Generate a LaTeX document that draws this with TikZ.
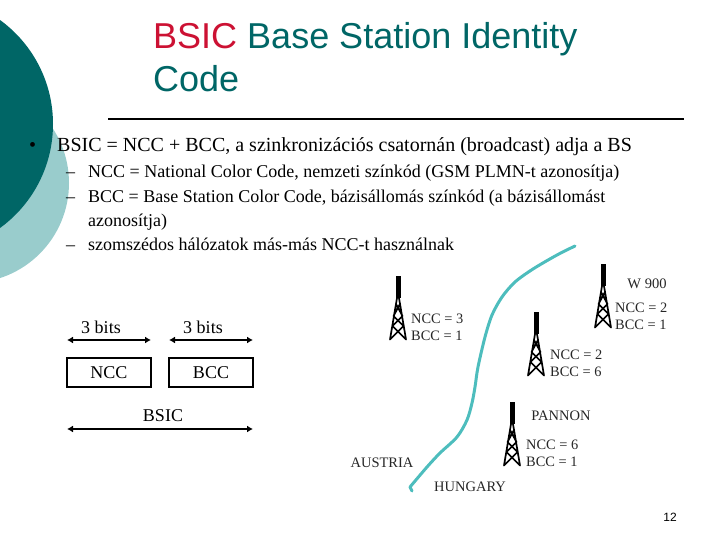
\documentclass[tikz,border=0pt]{standalone}
\usepackage{fontspec}
\setmainfont{Liberation Serif}
\newfontfamily\titlefont{Liberation Sans}
\usetikzlibrary{arrows.meta}
\definecolor{darkteal}{HTML}{006666}
\definecolor{lightteal}{HTML}{99CCCC}
\definecolor{tred}{HTML}{CC1133}
\definecolor{river}{HTML}{4DBDBD}
\tikzset{
 txt/.style={anchor=base west,inner sep=0pt,font=\fontsize{#1}{#1}\selectfont,text=black},
 ttl/.style={anchor=base west,inner sep=0pt,font=\titlefont\fontsize{36}{36}\selectfont,text=darkteal},
 lbl/.style={anchor=center,inner sep=0pt,font=\fontsize{18}{18}\selectfont},
 lab2/.style={anchor=west,inner sep=0pt,align=left,font=\fontsize{14.4}{17}\selectfont,text=black!85},
 mapl/.style={anchor=center,inner sep=0pt,font=\fontsize{14.5}{14.5}\selectfont,text=black!85},
 fieldbox/.style={draw=black,line width=1.4pt,minimum width=84pt,minimum height=29pt,inner sep=0pt,font=\fontsize{18}{18}\selectfont},
 dim/.style={{Latex[length=6pt,width=7pt]}-{Latex[length=6pt,width=7pt]},line width=1.4pt},
 pics/tower/.style={code={
  \fill[black] (-2.5,0) rectangle (2.5,22);
  \draw[black,line width=1.7pt,line cap=round,line join=round]
   (-8,63.5) -- (-1,22) (8,63.5) -- (1,22)
   (-8,63.5) -- (5.5,50) -- (-4.5,40) -- (2,28)
   (8,63.5) -- (-5.5,50) -- (4.5,40) -- (-2,28);
 }}
}
\begin{document}
\begin{tikzpicture}[x=1pt,y=-1pt]
\useasboundingbox (0,0) rectangle (720,540);
\begin{scope}
\clip (0,0) rectangle (720,540);
\fill[lightteal] (-31,183) circle (100);
\fill[darkteal] (-75.5,124) circle (128.5);
\end{scope}
\node[ttl] (t1) at (153,49) {\textcolor{tred}{BSIC} Base Station Identity};
\node[ttl] (t2) at (153,92) {Code};
\coordinate (ruleA) at (108,119);
\coordinate (ruleB) at (684,119);
\draw[line width=1.6pt] (ruleA) -- (ruleB);
\node[txt=20] (b0) at (29,152) {•};
\node[txt=20] (b1) at (57,152) {BSIC = NCC + BCC, a szinkronizációs csatornán (broadcast) adja a BS};
\node[txt=18] (d1) at (66,178) {–};
\node[txt=18] (s1) at (88,178) {NCC = National Color Code, nemzeti színkód (GSM PLMN-t azonosítja)};
\node[txt=18] (d2) at (66,203) {–};
\node[txt=18] (s2) at (88,203) {BCC = Base Station Color Code, bázisállomás színkód (a bázisállomást};
\node[txt=18] (s2b) at (88,226) {azonosítja)};
\node[txt=18] (d3) at (66,251) {–};
\node[txt=18] (s3) at (88,251) {szomszédos hálózatok más-más NCC-t használnak};
% field diagram
\node[fieldbox] (ncc) at (109,372.5) {NCC};
\node[fieldbox] (bcc) at (211,372.5) {BCC};
\coordinate (a1) at (67,340);
\coordinate (a2) at (151,340);
\coordinate (a3) at (169,340);
\coordinate (a4) at (253,340);
\coordinate (a5) at (67,429);
\coordinate (a6) at (253,429);
\draw[dim] (a1) -- (a2);
\draw[dim] (a3) -- (a4);
\draw[dim] (a5) -- (a6);
\node[lbl] (l1) at (101,327) {3 bits};
\node[lbl] (l2) at (203,327) {3 bits};
\node[lbl] (l3) at (163,416) {BSIC};
% border
\draw[river,line width=3pt,line cap=round,line join=round]
 plot[smooth,tension=0.5] coordinates {(575,246) (557,255) (533,269) (515,282) (502,297) (492,315) (485,337) (478,367) (475,387) (472,403) (467,420) (457,437) (440,453) (427,467) (410,487)} -- (412,491);
% towers
\path (398,276) pic {tower};
\path (603,264) pic {tower};
\path (536,312) pic {tower};
\path (512,402) pic {tower};
\node[lab2] (n1) at (411,327) {NCC = 3\\BCC = 1};
\node[lab2] (n2) at (615,316) {NCC = 2\\BCC = 1};
\node[lab2] (n3) at (550,363) {NCC = 2\\BCC = 6};
\node[lab2] (n4) at (526,453) {NCC = 6\\BCC = 1};
\node[mapl] (m1) at (647,284) {W 900};
\node[mapl] (m2) at (561,416) {PANNON};
\node[mapl] (m3) at (382,463) {AUSTRIA};
\node[mapl] (m4) at (470,487) {HUNGARY};
\node[inner sep=0pt,font=\titlefont\fontsize{12}{12}\selectfont] (pg) at (670,517) {12};
\end{tikzpicture}
\end{document}
